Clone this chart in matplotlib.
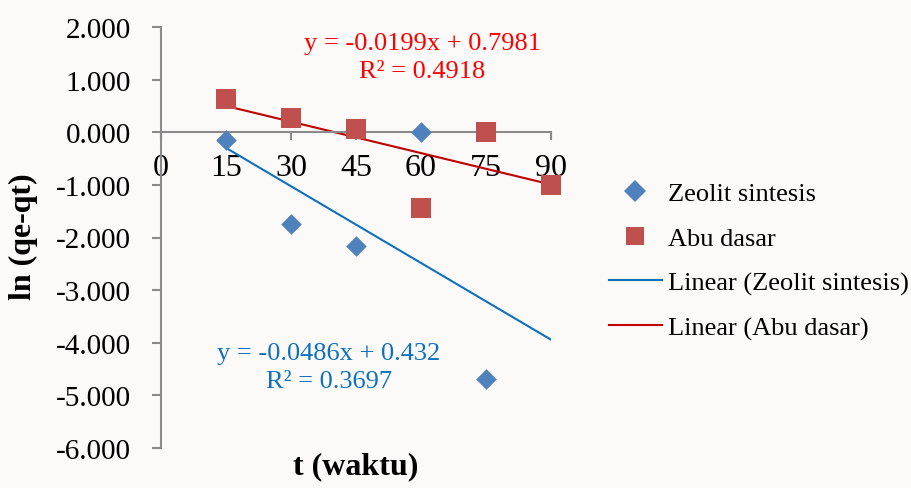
import matplotlib
matplotlib.use("Agg")
import matplotlib.pyplot as plt
import numpy as np
from matplotlib.lines import Line2D

plt.rcParams['font.family'] = ['Liberation Serif', 'DejaVu Serif']

# ---- data ----
x_zeolit = [15, 30, 45, 60, 75]
y_zeolit = [-0.15, -1.75, -2.17, 0.00, -4.68]
x_abu = [15, 30, 45, 60, 75, 90]
y_abu = [0.63, 0.28, 0.06, -1.43, 0.00, -1.00]

trend_x = [15, 90]
zeolit_fit = (-0.0486, 0.432)
abu_fit = (-0.0199, 0.7981)
zeolit_eq = "y = -0.0486x + 0.432\nR² = 0.3697"
abu_eq = "y = -0.0199x + 0.7981\nR² = 0.4918"

x_ticks = [0, 15, 30, 45, 60, 75, 90]
y_ticks = [2, 1, 0, -1, -2, -3, -4, -5, -6]
series_names = ["Zeolit sintesis", "Abu dasar",
                "Linear (Zeolit sintesis)", "Linear (Abu dasar)"]
x_label = "t (waktu)"
y_label = "ln (qe-qt)"

c_zeolit = '#4F81BD'
c_abu = '#C0504D'
c_zeolit_line = '#0F70C0'
c_abu_line = '#C00000'

W, H = 911, 489
fig = plt.figure(figsize=(W / 100, H / 100), dpi=100)
fig.patch.set_facecolor('#fbfaf8')
ax = fig.add_axes([161 / W, 1 - 449 / H, (551 - 161) / W, (449 - 28) / H])
ax.set_facecolor('none')

ax.scatter(x_zeolit, y_zeolit, marker='D', s=10.5 ** 2, color=c_zeolit, zorder=3,
           linewidths=0, clip_on=False)
ax.scatter(x_abu, y_abu, marker='s', s=14 ** 2, color=c_abu, zorder=3,
           linewidths=0, clip_on=False)

tx = np.array(trend_x, dtype=float)
ax.plot(tx, zeolit_fit[0] * tx + zeolit_fit[1], color=c_zeolit_line, lw=1.5, zorder=2)
ax.plot(tx, abu_fit[0] * tx + abu_fit[1], color=c_abu_line, lw=1.5, zorder=2)

ax.set_xlim(0, 90)
ax.set_ylim(-6, 2)
ax.set_xticks(x_ticks)
ax.set_xticklabels([str(v) for v in x_ticks])
ax.set_yticks(y_ticks)
ax.set_yticklabels([f"{v:.3f}" for v in y_ticks])

for s in ['top', 'right']:
    ax.spines[s].set_visible(False)
ax.spines['bottom'].set_position(('data', 0))
for s in ['left', 'bottom']:
    ax.spines[s].set_color('#8a8a8a')
    ax.spines[s].set_linewidth(1.5)

ax.tick_params(axis='x', direction='out', length=6, width=1.5, color='#8a8a8a',
               labelsize=23, pad=9)
ax.tick_params(axis='y', direction='out', length=6.5, width=1.5, color='#8a8a8a',
               labelsize=21, pad=15)

fig.text(356 / W, 1 - 467 / H, x_label, ha='center', va='center',
         fontsize=23, fontweight='bold')
fig.text(23 / W, 1 - 237 / H, y_label, ha='center', va='center',
         fontsize=23, fontweight='bold', rotation=90)

fig.text(422 / W, 1 - 58 / H, abu_eq, ha='center', va='center', fontsize=19,
         color='#FF0000', linespacing=1.32)
fig.text(329 / W, 1 - 368 / H, zeolit_eq, ha='center', va='center', fontsize=19,
         color=c_zeolit_line, linespacing=1.32)

handles = [
    Line2D([], [], ls='none', marker='D', markersize=11, color=c_zeolit, markeredgewidth=0),
    Line2D([], [], ls='none', marker='s', markersize=12.5, color=c_abu, markeredgewidth=0),
    Line2D([], [], color=c_zeolit_line, lw=1.5),
    Line2D([], [], color=c_abu_line, lw=1.5),
]
fig.legend(handles, series_names, loc='upper left',
           bbox_to_anchor=(609 / W, 1 - 183 / H), frameon=False, fontsize=19,
           handlelength=2.0, handletextpad=0.23, labelspacing=0.8,
           borderaxespad=0, borderpad=0)

fig.savefig('out.png', dpi=100, facecolor=fig.get_facecolor())
